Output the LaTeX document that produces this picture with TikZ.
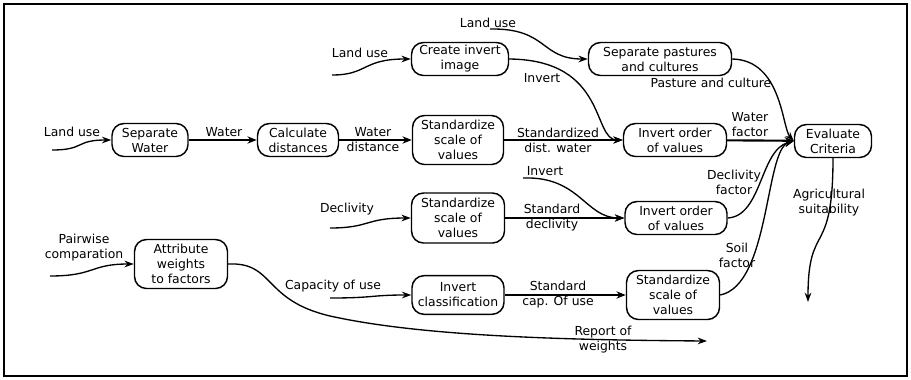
\documentclass[tikz,border=0pt]{standalone}
\usepackage{fontspec}
\setmainfont{DejaVu Sans}
\usetikzlibrary{arrows.meta}
\newcommand\dfont{\fontsize{9.3}{11.25}\selectfont}
\tikzset{
  box/.style={draw, rounded corners=9pt, line width=1.1pt, align=center, inner sep=0pt, font=\dfont},
  lbl/.style={align=center, inner sep=0pt, font=\dfont},
  flow/.style={-{Stealth[length=7pt,width=5.5pt]}, line width=1.6pt},
  curv/.style={-{Stealth[length=7pt,width=5pt]}, line width=1pt},
}
\begin{document}
\begin{tikzpicture}[x=0.75pt,y=-0.75pt]
\useasboundingbox (0,0) rectangle (911,379);
\draw[line width=1.5pt] (4,4) rectangle (907,376);

% nodes
\node[box, minimum width=57pt, minimum height=24.75pt] (sepw) at (150,140) {Separate\\Water};
\node[box, minimum width=60.75pt, minimum height=24.75pt] (calc) at (298,140) {Calculate\\distances};
\node[box, minimum width=68.25pt, minimum height=36.75pt] (std1) at (458,140) {Standardize\\scale of\\values};
\node[box, minimum width=72.75pt, minimum height=24.75pt] (invimg) at (460,59) {Create invert\\image};
\node[box, minimum width=107.25pt, minimum height=24.75pt] (sepp) at (660,59) {Separate pastures\\and cultures};
\node[box, minimum width=77.25pt, minimum height=24.75pt] (invo1) at (675,140) {Invert order\\of values};
\node[box, minimum width=57.75pt, minimum height=24.75pt] (eval) at (833,141) {Evaluate\\Criteria};
\node[box, minimum width=69.75pt, minimum height=37.5pt] (std2) at (458,218) {Standardize\\scale of\\values};
\node[box, minimum width=76.5pt, minimum height=24.75pt] (invo2) at (676,218) {Invert order\\of values};
\node[box, minimum width=69.75pt, minimum height=36.75pt] (attr) at (181,264) {Attribute\\weights\\to factors};
\node[box, minimum width=69pt, minimum height=29pt] (invcl) at (458,295) {Invert\\classification};
\node[box, minimum width=69.75pt, minimum height=36.75pt] (std3) at (673,295) {Standardize\\scale of\\values};

% labels
\node[lbl] (l1) at (72,132) {Land use};
\node[lbl] (l2) at (224,132) {Water};
\node[lbl] (l3) at (373,140) {Water\\distance};
\node[lbl] (l4) at (360,53) {Land use};
\node[lbl] (l5) at (488,23) {Land use};
\node[lbl] (l6) at (542,78) {Invert};
\node[lbl] (l7) at (558,140) {Standardized\\dist. water};
\node[lbl] (l8) at (711,83) {Pasture and culture};
\node[lbl] (l9) at (750,125) {Water\\factor};
\node[lbl] (l10) at (347,209) {Declivity};
\node[lbl] (l11) at (552,218) {Standard\\declivity};
\node[lbl] (l12) at (545,171) {Invert};
\node[lbl] (l13) at (734,182) {Declivity\\factor};
\node[lbl] (l14) at (84,248) {Pairwise\\comparation};
\node[lbl] (l15) at (333,286) {Capacity of use};
\node[lbl] (l16) at (558,295) {Standard\\cap. Of use};
\node[lbl] (l17) at (737,255) {Soil\\factor};
\node[lbl] (l18) at (829,203) {Agricultural\\suitability};
\node[lbl] (l19) at (603,340) {Report of\\weights};

% free ends
\coordinate (s1) at (52,150);
\coordinate (s2) at (332,75);
\coordinate (s3) at (490,29);
\coordinate (s4) at (523,178);
\coordinate (s5) at (330,228);
\coordinate (s6) at (50,276);
\coordinate (s7) at (330,298);
\coordinate (e1) at (808,302);
\coordinate (e2) at (707,341);

% straight flows
\draw[flow] (sepw) -- (calc);
\draw[flow] (calc) -- (std1);
\draw[flow] (std1) -- (invo1);
\draw[flow] (invo1) -- (eval);
\draw[flow] (std2) -- (invo2);
\draw[flow] (invcl) -- (std3);

% curved inputs
\draw[curv] (s1) .. controls (85,150) and (75,140) .. (sepw.west);
\draw[curv] (s2) .. controls (368,75) and (362,59) .. (invimg.west);
\draw[curv] (s3) .. controls (548,28) and (540,59) .. (sepp.west);
\draw[curv] (invimg.east) .. controls (608,60) and (592,140) .. (invo1.west);
\draw[curv] (s4) .. controls (580,176) and (585,218) .. (invo2.west);
\draw[curv] (s5) .. controls (370,228) and (365,218) .. (std2.west);
\draw[curv] (s6) .. controls (95,276) and (90,264) .. (attr.west);
\draw[curv] (s7) .. controls (375,298) and (370,295) .. (invcl.west);

% converging to evaluate
\draw[curv] (sepp.east) .. controls (782,60) and (782,128) .. (eval.west);
\draw[curv] (invo2.east) .. controls (762,216) and (760,150) .. (eval.west);
\draw[curv] (std3.east) .. controls (770,285) and (765,150) .. (eval.west);

% outputs
\draw[curv] (eval.south) .. controls (833,260) and (808,220) .. (e1);
\draw[curv] (attr.east) .. controls (275,262) and (262,300) .. (330,316) .. controls (420,336) and (560,340) .. (e2);
\end{tikzpicture}
\end{document}
